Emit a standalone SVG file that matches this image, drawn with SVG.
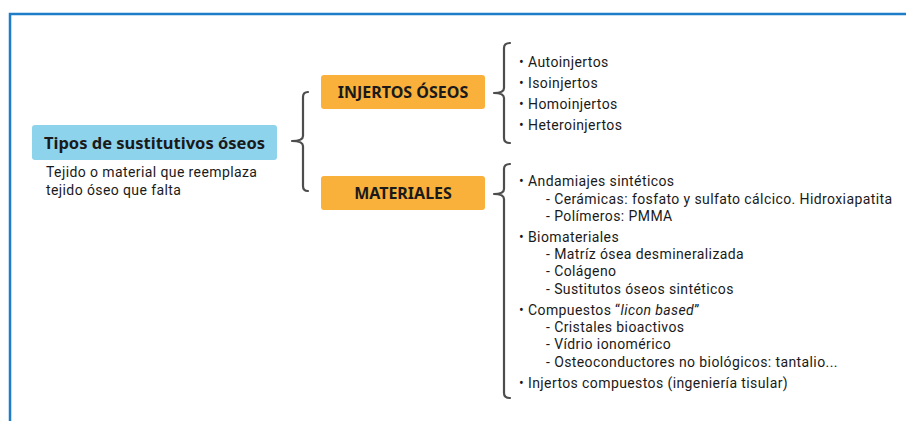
<svg xmlns="http://www.w3.org/2000/svg" width="906" height="421" viewBox="0 0 906 421">
<style>
text{font-family:"Noto Sans","Open Sans",sans-serif;fill:#1a1a1a}
.t{font-family:Roboto,"Noto Sans",sans-serif;font-size:14px;letter-spacing:0.4px}
.h{font-size:16px;font-weight:bold;text-anchor:middle}
.brace{fill:none;stroke:#4d4d4d;stroke-width:2.2;stroke-linecap:round;stroke-linejoin:round}
</style>
<rect width="906" height="421" fill="#ffffff"/>
<path d="M10 421 V14 H906" fill="none" stroke="#1f7dc8" stroke-width="2.5"/>
<g id="root">
<rect x="32" y="125" width="245" height="35" rx="3" fill="#8dd3ec"/>
<text x="154.5" y="148.5" style="font-size:16.5px;font-weight:bold;text-anchor:middle">Tipos de sustitutivos óseos</text>
<text class="t" x="46" y="177">Tejido o material que reemplaza</text>
<text class="t" x="46" y="195">tejido óseo que falta</text>
</g>
<g id="injertos">
<rect x="321" y="75" width="164" height="34" rx="3" fill="#f9b13c"/>
<text class="h" x="403" y="97.5">INJERTOS ÓSEOS</text>
</g>
<g id="materiales">
<rect x="321" y="176" width="164" height="34" rx="3" fill="#f9b13c"/>
<text class="h" x="403" y="198.5">MATERIALES</text>
</g>
<g id="connectors">
<path class="brace" d="M308 92 Q303 92 303 97 V136 Q303 141 292 141 Q303 141 303 146 V186 Q303 191 308 191"/>
<path class="brace" d="M510 43 Q504 43 504 48 V88 Q504 93 494 93 Q504 93 504 98 V138 Q504 143 510 143"/>
<path class="brace" d="M510 164 Q504 164 504 169 V189 Q504 194 494 194 Q504 194 504 199 V393 Q504 398 510 398"/>
</g>
<g id="list-injertos">
<text class="t" x="519" y="67">• Autoinjertos</text>
<text class="t" x="519" y="88">• Isoinjertos</text>
<text class="t" x="519" y="109">• Homoinjertos</text>
<text class="t" x="519" y="130">• Heteroinjertos</text>
</g>
<g id="list-materiales">
<text class="t" x="519" y="186">• Andamiajes sintéticos</text>
<text class="t" x="546" y="204">- Cerámicas: fosfato y sulfato cálcico. Hidroxiapatita</text>
<text class="t" x="546" y="221">- Polímeros: PMMA</text>
<text class="t" x="519" y="242">• Biomateriales</text>
<text class="t" x="546" y="259">- Matríz ósea desmineralizada</text>
<text class="t" x="546" y="276">- Colágeno</text>
<text class="t" x="546" y="294">- Sustitutos óseos sintéticos</text>
<text class="t" x="519" y="315">• Compuestos “<tspan font-style="italic">licon based</tspan>”</text>
<text class="t" x="546" y="332">- Cristales bioactivos</text>
<text class="t" x="546" y="349">- Vídrio ionomérico</text>
<text class="t" x="546" y="367">- Osteoconductores no biológicos: tantalio...</text>
<text class="t" x="519" y="388">• Injertos compuestos (ingeniería tisular)</text>
</g>
</svg>
